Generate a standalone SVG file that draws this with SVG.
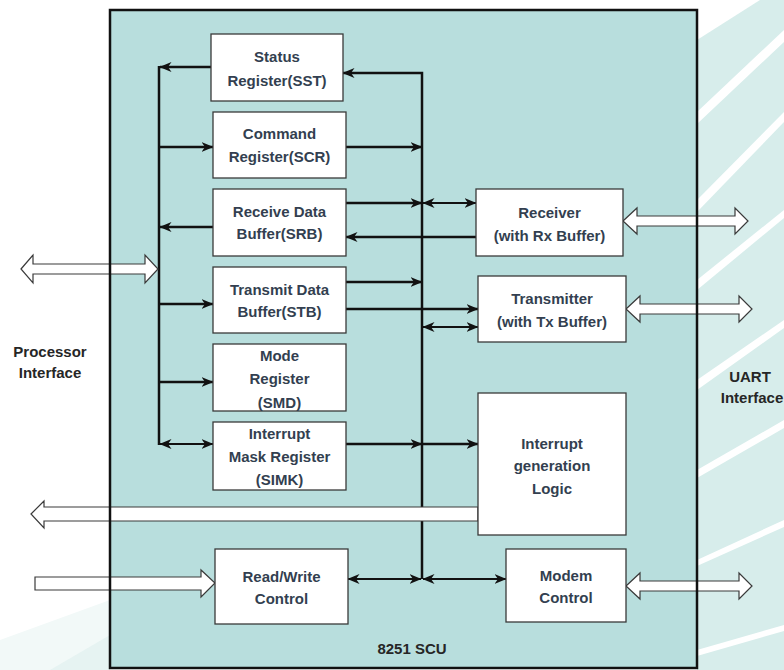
<svg xmlns="http://www.w3.org/2000/svg" width="784" height="670" viewBox="0 0 784 670">
<defs>
<style>
.box{fill:#ffffff;stroke:#3a3a3a;stroke-width:1.3}
.lbl{font-family:"Liberation Sans",Arial,sans-serif;font-weight:bold;font-size:15px;fill:#333f50;text-anchor:middle}
.out{font-family:"Liberation Sans",Arial,sans-serif;font-weight:bold;font-size:15px;fill:#262626;text-anchor:middle}
.ln{fill:none;stroke:#111;stroke-width:2.5}
.ln2{fill:none;stroke:#111;stroke-width:1.8}
.hol{fill:#ffffff;stroke:#3a3a3a;stroke-width:1.2}
.stripe{fill:#ffffff}
</style>
<marker id="ah" viewBox="0 0 12 10" refX="11.5" refY="5" markerWidth="12" markerHeight="10" markerUnits="userSpaceOnUse" orient="auto-start-reverse">
<path d="M0,0 L12,5 L0,10 L3.5,5 z" fill="#111"/>
</marker>
</defs>
<rect x="0" y="0" width="784" height="670" fill="#ffffff"/>
<g id="decor">
<rect x="697" y="0" width="87" height="670" fill="#d7edeb"/>
<polygon class="stripe" points="697,0 760,0 697,40"/>
<polygon class="stripe" points="697,112 784,30 784,42 697,124"/>
<polygon class="stripe" points="697,200 784,112 784,122 697,212"/>
<polygon class="stripe" points="697,280 784,210 784,218 697,290"/>
<polygon class="stripe" points="697,380 784,320 784,328 697,390"/>
<polygon class="stripe" points="697,470 784,420 784,428 697,478"/>
<polygon class="stripe" points="697,560 784,520 784,527 697,566"/>
<polygon class="stripe" points="697,650 784,625 784,631 697,656"/>
<polygon points="0,670 0,640 110,600 110,670" fill="#f2f9f8"/>
<polygon points="50,670 110,635 110,670" fill="#e6f3f2"/>
</g>
<rect x="110" y="10" width="587" height="658" fill="#b8dedd"/>
<g id="connectors">
<path class="ln" d="M211,67 H160" marker-end="url(#ah)"/>
<path class="ln" d="M159,66 V445"/>
<path class="ln" d="M159,147 H213" marker-end="url(#ah)"/>
<path class="ln" d="M213,227 H160" marker-end="url(#ah)"/>
<path class="ln" d="M159,304 H213" marker-end="url(#ah)"/>
<path class="ln" d="M159,382 H213" marker-end="url(#ah)"/>
<path class="ln2" d="M160,444 H213" marker-start="url(#ah)" marker-end="url(#ah)"/>
<path class="ln" d="M422,579 V73 H343" marker-end="url(#ah)"/>
<path class="ln" d="M346,147 H422" marker-end="url(#ah)"/>
<path class="ln" d="M346,203 H422" marker-end="url(#ah)"/>
<path class="ln2" d="M423,203 H476" marker-start="url(#ah)" marker-end="url(#ah)"/>
<path class="ln" d="M476,237 H346" marker-end="url(#ah)"/>
<path class="ln" d="M346,282 H422" marker-end="url(#ah)"/>
<path class="ln" d="M346,309 H478" marker-end="url(#ah)"/>
<path class="ln2" d="M423,327 H478" marker-start="url(#ah)" marker-end="url(#ah)"/>
<path class="ln" d="M346,444 H422" marker-end="url(#ah)"/>
<path class="ln" d="M422,444 H478" marker-end="url(#ah)"/>
<path class="ln2" d="M348,579 H421" marker-start="url(#ah)" marker-end="url(#ah)"/>
<path class="ln2" d="M423,579 H506" marker-start="url(#ah)" marker-end="url(#ah)"/>
</g>
<g id="processor-arrow"><polygon class="hol" points="21,269 33,255 33,264 145,264 145,255 158,269 145,283 145,274 33,274 33,283"/></g>
<g id="receiver-arrow"><polygon class="hol" points="623,221 637,208 637,216 735,216 735,208 748,221 735,234 735,226 637,226 637,234"/></g>
<g id="transmitter-arrow"><polygon class="hol" points="626,309 640,296 640,304 739,304 739,296 752,309 739,322 739,314 640,314 640,322"/></g>
<g id="modem-arrow"><polygon class="hol" points="626,586 640,573 640,581 739,581 739,573 752,586 739,599 739,591 640,591 640,599"/></g>
<g id="interrupt-out-arrow"><polygon class="hol" points="31,514 44,501 44,507 478,507 478,521 44,521 44,528"/></g>
<g id="rw-in-arrow"><polygon class="hol" points="35,577 201,577 201,570 215,583 201,597 201,590 35,590"/></g>
<rect x="110" y="10" width="587" height="658" fill="none" stroke="#111" stroke-width="2.5"/>
<g id="status">
<rect class="box" x="211" y="34" width="132" height="67"/>
<text class="lbl" x="277" y="62">Status</text>
<text class="lbl" x="277" y="86">Register(SST)</text>
</g>
<g id="command">
<rect class="box" x="213" y="112" width="133" height="66"/>
<text class="lbl" x="279.5" y="139">Command</text>
<text class="lbl" x="279.5" y="162">Register(SCR)</text>
</g>
<g id="receive-buffer">
<rect class="box" x="213" y="189" width="133" height="67"/>
<text class="lbl" x="279.5" y="217">Receive Data</text>
<text class="lbl" x="279.5" y="239">Buffer(SRB)</text>
</g>
<g id="transmit-buffer">
<rect class="box" x="213" y="267" width="133" height="66"/>
<text class="lbl" x="279.5" y="295">Transmit Data</text>
<text class="lbl" x="279.5" y="317">Buffer(STB)</text>
</g>
<g id="mode">
<rect class="box" x="213" y="344" width="133" height="67"/>
<text class="lbl" x="279.5" y="361">Mode</text>
<text class="lbl" x="279.5" y="384">Register</text>
<text class="lbl" x="279.5" y="408">(SMD)</text>
</g>
<g id="interrupt-mask">
<rect class="box" x="213" y="422" width="133" height="68"/>
<text class="lbl" x="279.5" y="439">Interrupt</text>
<text class="lbl" x="279.5" y="462">Mask Register</text>
<text class="lbl" x="279.5" y="485">(SIMK)</text>
</g>
<g id="receiver">
<rect class="box" x="476" y="189" width="147" height="67"/>
<text class="lbl" x="549.5" y="218">Receiver</text>
<text class="lbl" x="549.5" y="241">(with Rx Buffer)</text>
</g>
<g id="transmitter">
<rect class="box" x="478" y="276" width="148" height="66"/>
<text class="lbl" x="552" y="304">Transmitter</text>
<text class="lbl" x="552" y="327">(with Tx Buffer)</text>
</g>
<g id="interrupt-logic">
<rect class="box" x="478" y="393" width="148" height="142"/>
<text class="lbl" x="552" y="449">Interrupt</text>
<text class="lbl" x="552" y="471">generation</text>
<text class="lbl" x="552" y="494">Logic</text>
</g>
<g id="read-write">
<rect class="box" x="215" y="549" width="133" height="75"/>
<text class="lbl" x="281.5" y="582">Read/Write</text>
<text class="lbl" x="281.5" y="604">Control</text>
</g>
<g id="modem">
<rect class="box" x="506" y="549" width="120" height="73"/>
<text class="lbl" x="566" y="581">Modem</text>
<text class="lbl" x="566" y="603">Control</text>
</g>
<g id="labels">
<text class="out" x="50" y="357">Processor</text>
<text class="out" x="50" y="378">Interface</text>
<text class="out" x="750" y="382">UART</text>
<text class="out" x="752" y="403">Interface</text>
<text class="out" x="412" y="654">8251 SCU</text>
</g>
</svg>
